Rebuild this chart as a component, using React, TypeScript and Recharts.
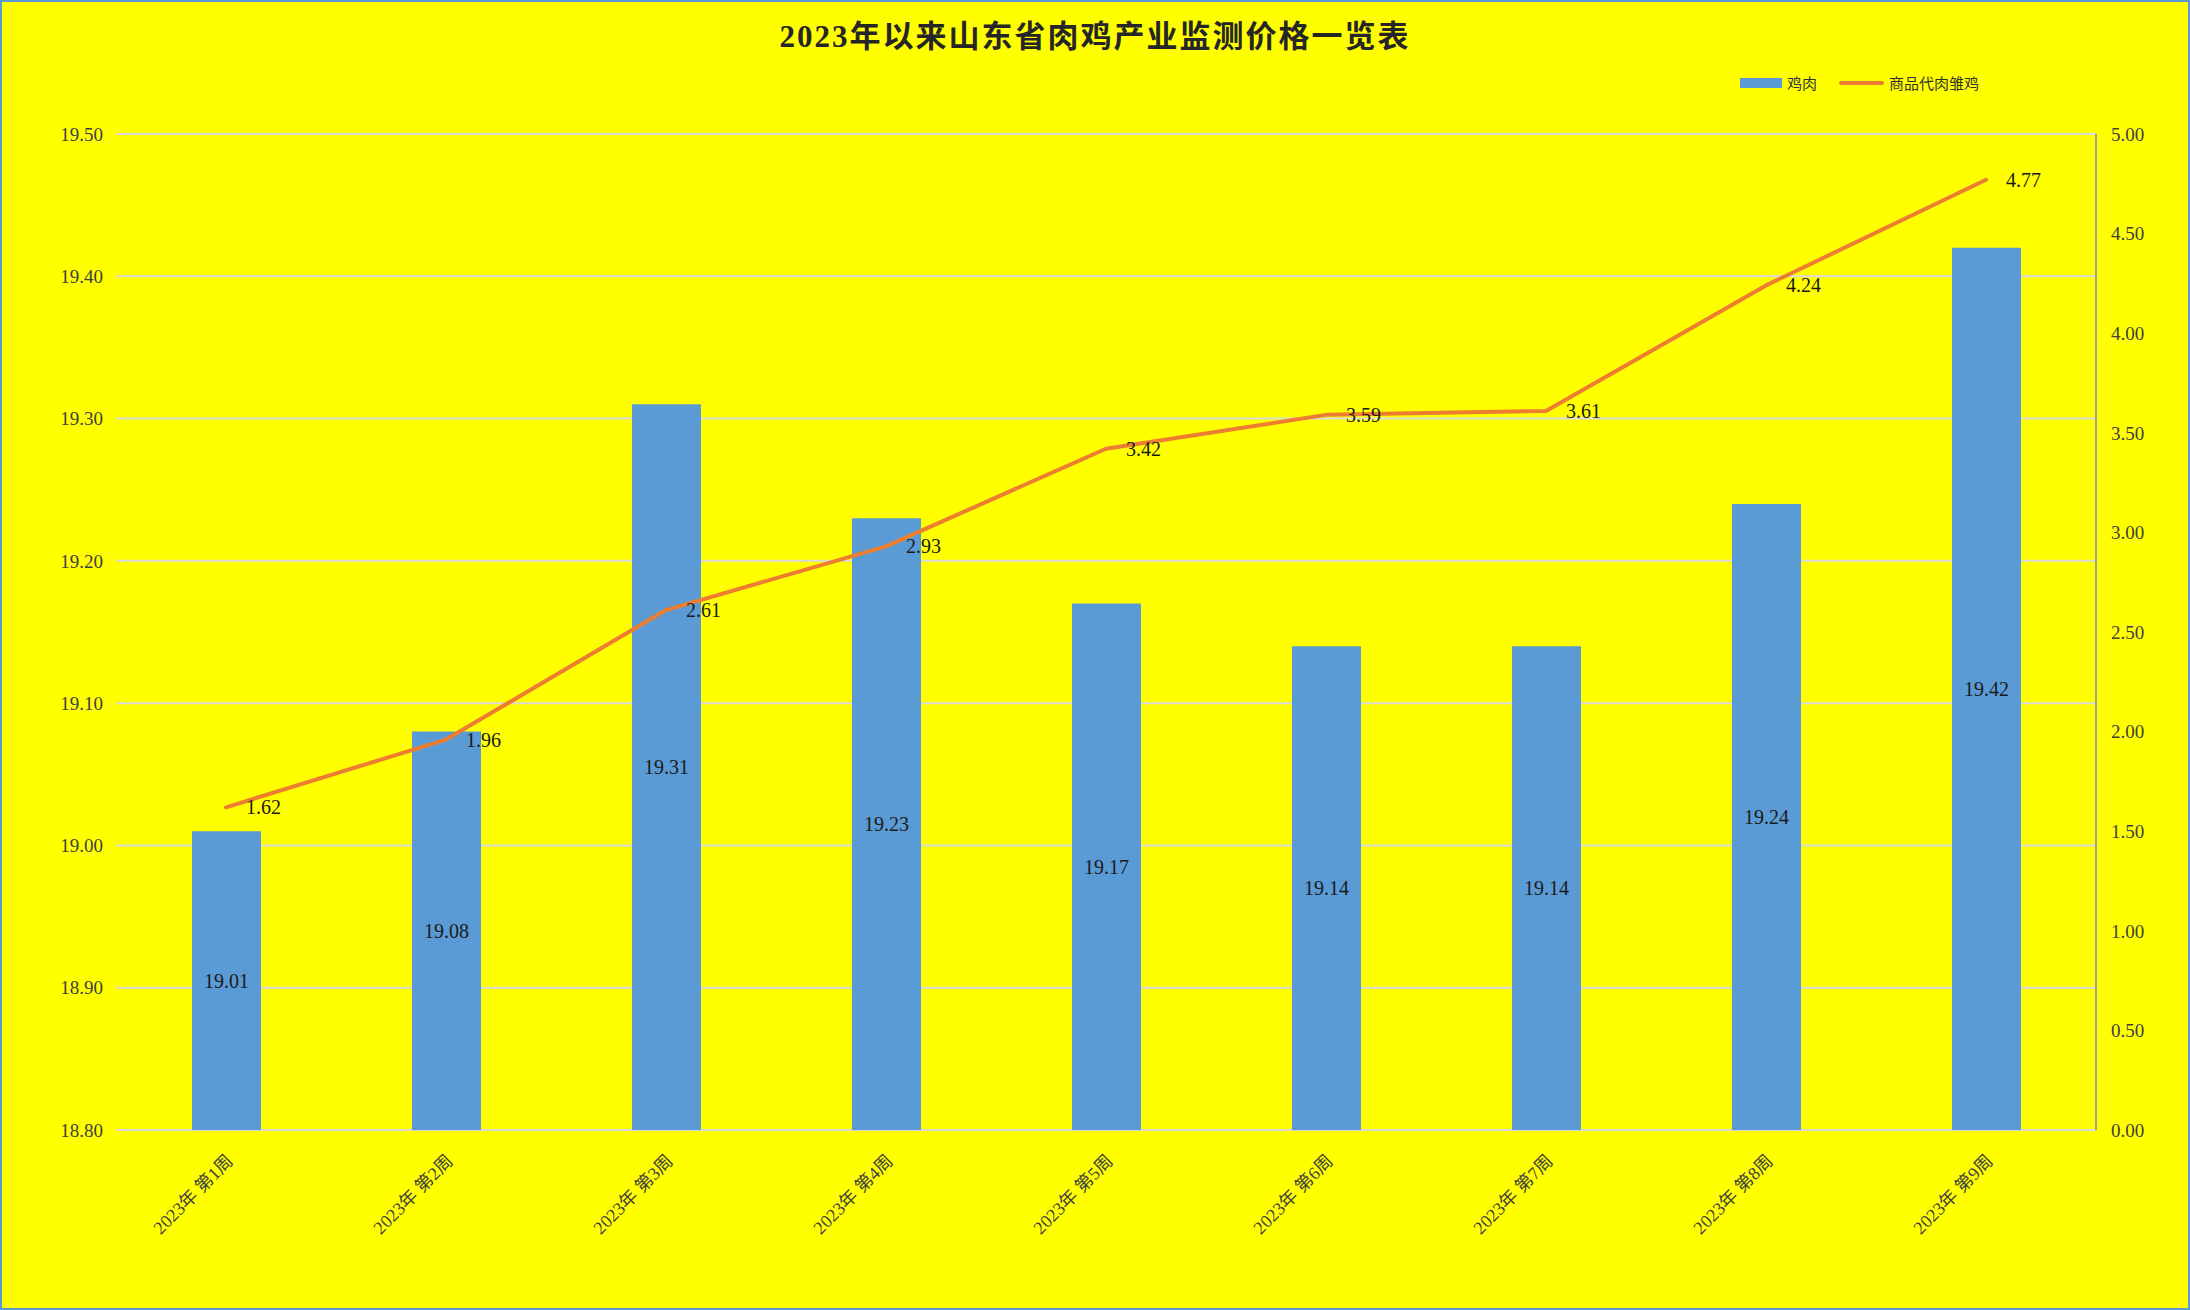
import { ComposedChart, Bar, Line, XAxis, YAxis, CartesianGrid, LabelList, Legend } from "recharts";

// Weekly monitoring prices, Shandong broiler industry, 2023 weeks 1-9.
const weeks = [
  "2023年 第1周",
  "2023年 第2周",
  "2023年 第3周",
  "2023年 第4周",
  "2023年 第5周",
  "2023年 第6周",
  "2023年 第7周",
  "2023年 第8周",
  "2023年 第9周",
];
const chickenMeat = [19.01, 19.08, 19.31, 19.23, 19.17, 19.14, 19.14, 19.24, 19.42];
const chicks = [1.62, 1.96, 2.61, 2.93, 3.42, 3.59, 3.61, 4.24, 4.77];
const leftTicks = [18.8, 18.9, 19.0, 19.1, 19.2, 19.3, 19.4, 19.5];
const rightTicks = [0, 0.5, 1, 1.5, 2, 2.5, 3, 3.5, 4, 4.5, 5];

const data = weeks.map((week, i) => ({ week, meat: chickenMeat[i], chick: chicks[i] }));

const SERIF = '"Liberation Serif", "Noto Sans CJK SC", serif';
const BLUE = "#5b9bd5";
const ORANGE = "#ed7d31";

function WeekTick({ x, y, payload }: any) {
  const ax = x + 8;
  const ay = y + 24;
  return (
    <text
      x={ax}
      y={ay}
      transform={`rotate(-45, ${ax}, ${ay})`}
      textAnchor="end"
      fontSize={18}
      fontFamily={SERIF}
      fill="#404040"
    >
      {payload.value}
    </text>
  );
}

function LegendBox() {
  return (
    <div style={{ display: "flex", alignItems: "center", fontFamily: '"Noto Sans CJK SC", sans-serif', fontSize: 15, color: "#333" }}>
      <span style={{ width: 42, height: 10, background: BLUE, display: "inline-block" }} />
      <span style={{ marginLeft: 5 }}>鸡肉</span>
      <span style={{ width: 45, height: 4, borderRadius: 2, background: ORANGE, display: "inline-block", marginLeft: 22 }} />
      <span style={{ marginLeft: 5 }}>商品代肉雏鸡</span>
    </div>
  );
}

export default function App() {
  return (
    <div
      style={{
        position: "absolute",
        left: 0,
        top: 0,
        width: 2190,
        height: 1310,
        boxSizing: "border-box",
        border: `2px solid ${BLUE}`,
        background: "#ffff00",
      }}
    >
      <div
        style={{
          position: "absolute",
          left: -2,
          top: 15,
          width: 2190,
          textAlign: "center",
          fontFamily: SERIF,
          fontWeight: "bold",
          fontSize: 31,
          letterSpacing: 2,
          color: "#262626",
          lineHeight: "40px",
        }}
      >
        2023年以来山东省肉鸡产业监测价格一览表
      </div>
      <div style={{ position: "absolute", left: -2, top: -2 }}>
        <ComposedChart width={2190} height={1310} data={data} margin={{ top: 134, right: 0, bottom: 0, left: 0 }}>
          <CartesianGrid yAxisId="left" vertical={false} stroke="#d9d9d9" strokeWidth={2} />
          <XAxis dataKey="week" height={180} axisLine={false} tickLine={false} interval={0} tick={<WeekTick />} />
          <YAxis
            yAxisId="left"
            width={116}
            domain={[18.8, 19.5]}
            ticks={leftTicks}
            allowDataOverflow
            axisLine={false}
            tickLine={false}
            tickMargin={7}
            tick={{ fill: "#404040", fontSize: 19, fontFamily: SERIF }}
            tickFormatter={(v: number) => v.toFixed(2)}
          />
          <YAxis
            yAxisId="right"
            orientation="right"
            width={94}
            domain={[0, 5]}
            ticks={rightTicks}
            axisLine={{ stroke: "#a0a0a0", strokeWidth: 2 }}
            tickLine={false}
            tickMargin={9}
            tick={{ fill: "#404040", fontSize: 19, fontFamily: SERIF, textAnchor: "start" }}
            tickFormatter={(v: number) => v.toFixed(2)}
          />
          <Legend
            layout="vertical"
            align="center"
            verticalAlign="middle"
            content={<LegendBox />}
            wrapperStyle={{ left: 1740, top: 72, width: 300 }}
          />
          <Bar yAxisId="left" dataKey="meat" name="鸡肉" fill={BLUE} barSize={69} isAnimationActive={false}>
            <LabelList
              dataKey="meat"
              position="center"
              fill="#1a1a1a"
              fontSize={20}
              fontFamily={SERIF}
              formatter={(v: any) => Number(v).toFixed(2)}
            />
          </Bar>
          <Line
            yAxisId="right"
            dataKey="chick"
            name="商品代肉雏鸡"
            type="linear"
            stroke={ORANGE}
            strokeWidth={4}
            strokeLinecap="round"
            strokeLinejoin="round"
            dot={false}
            activeDot={false}
            isAnimationActive={false}
          >
            <LabelList
              dataKey="chick"
              position="right"
              offset={20}
              fill="#1a1a1a"
              fontSize={20}
              fontFamily={SERIF}
              formatter={(v: any) => Number(v).toFixed(2)}
            />
          </Line>
        </ComposedChart>
      </div>
    </div>
  );
}
